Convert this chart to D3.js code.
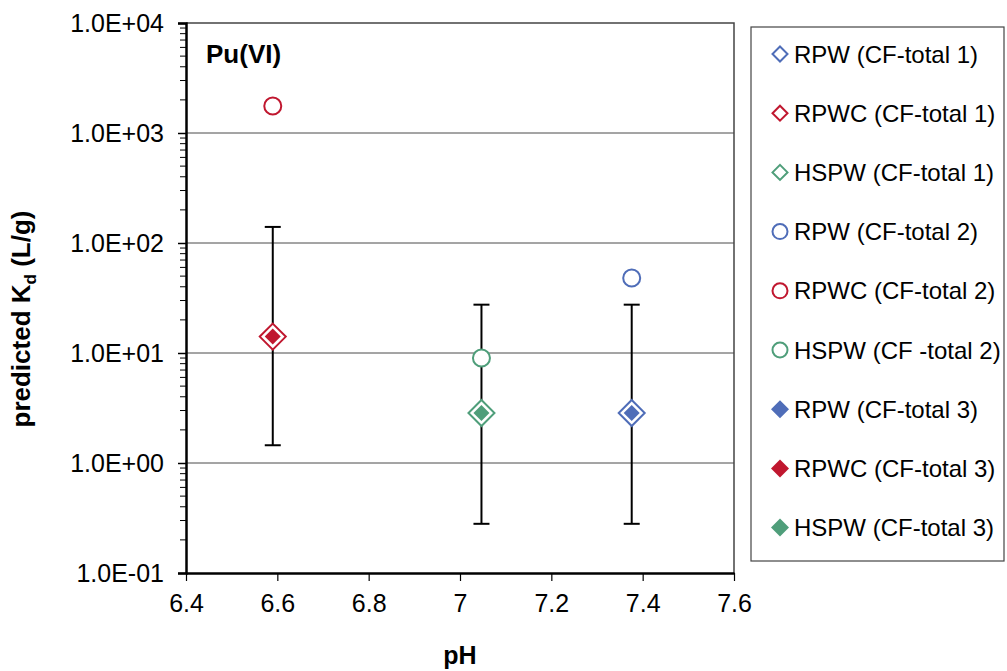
<!DOCTYPE html>
<html>
<head>
<meta charset="utf-8">
<script src="https://cdn.jsdelivr.net/npm/d3@7"></script>
<style>
  body { margin: 0; background: #fff; }
  text { font-family: Arial, "Liberation Sans", sans-serif; }
</style>
</head>
<body>
<div id="chart"></div>
<script>
// samples and their pH
var samples = ["RPW", "RPWC", "HSPW"];
var pH = [7.376, 6.59, 7.047];

// predicted Kd (L/g) per approach
var cfTotal1 = [2.85, 14.1, 2.85];
var cfTotal2 = [48, 1760, 9];
var cfTotal3 = [2.85, 14.1, 2.85];

// error bars around CF-total 3
var errLow = [0.28, 1.45, 0.28];
var errHigh = [27.5, 140, 27.5];

var colors = ["#4f6db8", "#c0172f", "#4f9e7a"];

var xTicks = [6.4, 6.6, 6.8, 7, 7.2, 7.4, 7.6];
var xTickLabels = ["6.4", "6.6", "6.8", "7", "7.2", "7.4", "7.6"];
var yTicks = [0.1, 1, 10, 100, 1000, 10000];
var yTickLabels = ["1.0E-01", "1.0E+00", "1.0E+01", "1.0E+02", "1.0E+03", "1.0E+04"];

var legendLabels = [
    "RPW (CF-total 1)", "RPWC (CF-total 1)", "HSPW (CF-total 1)",
    "RPW (CF-total 2)", "RPWC (CF-total 2)", "HSPW (CF -total 2)",
    "RPW (CF-total 3)", "RPWC (CF-total 3)", "HSPW (CF-total 3)"
];

var margin = {top: 23, right: 273, bottom: 98, left: 186},
    width = 1007 - margin.left - margin.right,
    height = 671 - margin.top - margin.bottom;

var svg = d3.select("#chart").append("svg")
    .attr("width", 1007)
    .attr("height", 671);

var g = svg.append("g")
    .attr("transform", "translate(" + margin.left + "," + margin.top + ")");

var x = d3.scaleLinear().domain([6.4, 7.6]).range([0, width]);
var y = d3.scaleLog().domain([0.1, 10000]).range([height, 0]);

// gridlines
g.selectAll(".grid")
    .data(yTicks.slice(1, -1))
    .enter().append("line")
    .attr("x1", 0).attr("x2", width)
    .attr("y1", function(d) { return y(d); })
    .attr("y2", function(d) { return y(d); })
    .style("stroke", "#4a4a4a")
    .style("stroke-width", 1);

// top and right frame
g.append("path")
    .attr("d", "M0,0H" + width + "V" + height)
    .style("fill", "none")
    .style("stroke", "#444")
    .style("stroke-width", 1.5);

// minor ticks on y
var minor = [];
for (var e = -1; e < 4; e++) {
    for (var m = 2; m < 10; m++) minor.push(m * Math.pow(10, e));
}
g.selectAll(".minor")
    .data(minor)
    .enter().append("line")
    .attr("x1", -6).attr("x2", 0)
    .attr("y1", function(d) { return y(d); })
    .attr("y2", function(d) { return y(d); })
    .style("stroke", "#000")
    .style("stroke-width", 1);

// y axis
var yAxis = g.append("g")
    .call(d3.axisLeft(y).tickValues(yTicks).tickSize(8).tickPadding(14)
        .tickFormat(function(d, i) { return yTickLabels[i]; }));
yAxis.select(".domain").style("stroke-width", 2.5);
yAxis.selectAll(".tick line").style("stroke-width", 1.5);
yAxis.selectAll("text").style("font-size", "25px").attr("fill", "#000");

// x axis
var xAxis = g.append("g")
    .attr("transform", "translate(0," + height + ")")
    .call(d3.axisBottom(x).tickValues(xTicks).tickSize(8).tickPadding(13)
        .tickSizeOuter(0)
        .tickFormat(function(d, i) { return xTickLabels[i]; }));
xAxis.select(".domain").style("stroke-width", 2.5);
xAxis.selectAll(".tick line").style("stroke-width", 1.2);
xAxis.selectAll("text").style("font-size", "25px").attr("fill", "#000");

// axis titles
svg.append("text")
    .attr("x", margin.left + width / 2)
    .attr("y", 664)
    .attr("text-anchor", "middle")
    .style("font-size", "25px")
    .style("font-weight", "bold")
    .text("pH");

var yt = svg.append("text")
    .attr("transform", "translate(30,319) rotate(-90)")
    .attr("text-anchor", "middle")
    .style("font-size", "26px")
    .style("font-weight", "bold");
yt.append("tspan").text("predicted K");
yt.append("tspan").attr("dy", 6).style("font-size", "17px").text("d");
yt.append("tspan").attr("dy", -6).text(" (L/g)");

g.append("text")
    .attr("x", 20)
    .attr("y", 40)
    .style("font-size", "26px")
    .style("font-weight", "bold")
    .text("Pu(VI)");

// error bars
var eb = g.selectAll(".err")
    .data(samples)
    .enter().append("g");
eb.append("line")
    .attr("x1", function(d, i) { return x(pH[i]); })
    .attr("x2", function(d, i) { return x(pH[i]); })
    .attr("y1", function(d, i) { return y(errLow[i]); })
    .attr("y2", function(d, i) { return y(errHigh[i]); })
    .style("stroke", "#000").style("stroke-width", 2);
[errLow, errHigh].forEach(function(arr) {
    eb.append("line")
        .attr("x1", function(d, i) { return x(pH[i]) - 8; })
        .attr("x2", function(d, i) { return x(pH[i]) + 8; })
        .attr("y1", function(d, i) { return y(arr[i]); })
        .attr("y2", function(d, i) { return y(arr[i]); })
        .style("stroke", "#000").style("stroke-width", 2);
});

function diamond(r) {
    return "M0," + (-r) + "L" + r + ",0L0," + r + "L" + (-r) + ",0Z";
}

// CF-total 1: open diamonds
g.selectAll(".cf1")
    .data(cfTotal1)
    .enter().append("path")
    .attr("d", diamond(13))
    .attr("transform", function(d, i) { return "translate(" + x(pH[i]) + "," + y(d) + ")"; })
    .style("fill", "#fff")
    .style("stroke", function(d, i) { return colors[i]; })
    .style("stroke-width", 2);

// CF-total 2: open circles
g.selectAll(".cf2")
    .data(cfTotal2)
    .enter().append("circle")
    .attr("cx", function(d, i) { return x(pH[i]); })
    .attr("cy", function(d) { return y(d); })
    .attr("r", 8.5)
    .style("fill", "#fff")
    .style("stroke", function(d, i) { return colors[i]; })
    .style("stroke-width", 2);

// CF-total 3: filled diamonds
g.selectAll(".cf3")
    .data(cfTotal3)
    .enter().append("path")
    .attr("d", diamond(8))
    .attr("transform", function(d, i) { return "translate(" + x(pH[i]) + "," + y(d) + ")"; })
    .style("fill", function(d, i) { return colors[i]; });

// legend
var lg = svg.append("g").attr("transform", "translate(751,27)");
lg.append("rect")
    .attr("width", 253).attr("height", 534)
    .style("fill", "#fff")
    .style("stroke", "#444")
    .style("stroke-width", 1.2);

var legendItems = lg.selectAll(".item")
    .data(legendLabels)
    .enter().append("g")
    .attr("transform", function(d, i) { return "translate(29," + (27 + i * 59.2) + ")"; });

legendItems.each(function(d, i) {
    var el = d3.select(this);
    var c = colors[i % 3];
    var kind = Math.floor(i / 3);
    if (kind === 0) {
        el.append("path").attr("d", diamond(7.5))
            .style("fill", "#fff").style("stroke", c).style("stroke-width", 2);
    } else if (kind === 1) {
        el.append("circle").attr("r", 7.5)
            .style("fill", "#fff").style("stroke", c).style("stroke-width", 2);
    } else {
        el.append("path").attr("d", diamond(9)).style("fill", c);
    }
    el.append("text")
        .attr("x", 14)
        .attr("dy", "0.36em")
        .style("font-size", "24px")
        .text(d);
});
</script>
</body>
</html>
